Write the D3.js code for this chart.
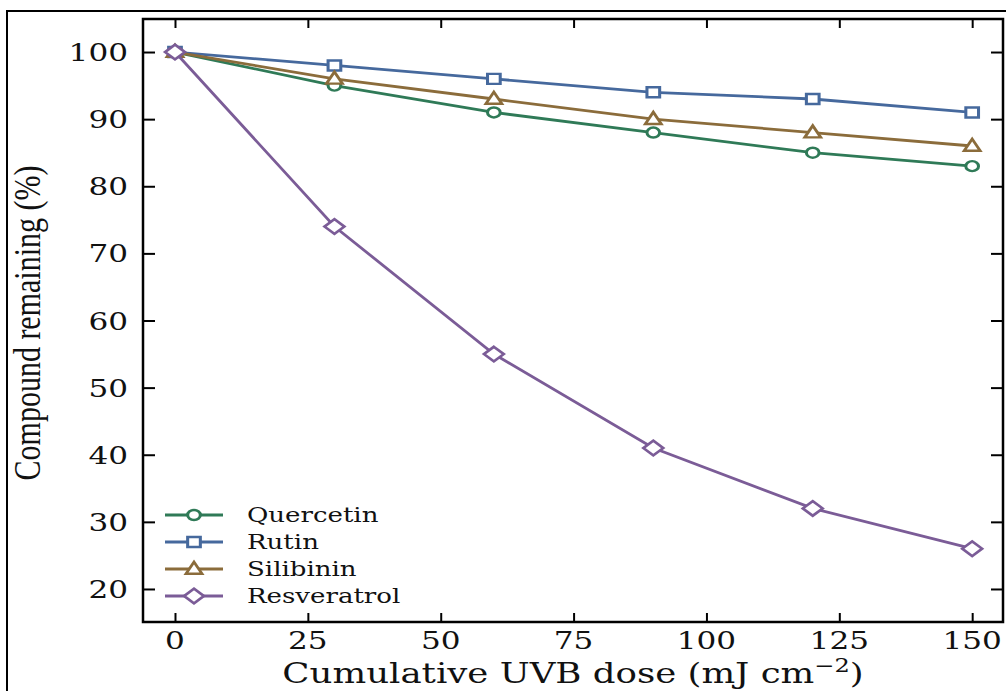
<!DOCTYPE html>
<html>
<head>
<meta charset="utf-8">
<script src="https://cdn.jsdelivr.net/npm/d3@7"></script>
<style>
  body { margin: 0; background: #fff; }
  svg { display: block; }
</style>
</head>
<body>
<div id="viz"></div>
<script>
// data
var doses = [0, 30, 60, 90, 120, 150];
var seriesNames = ["Quercetin", "Rutin", "Silibinin", "Resveratrol"];
var quercetin = [100, 95, 91, 88, 85, 83];
var rutin = [100, 98, 96, 94, 93, 91];
var silibinin = [100, 96, 93, 90, 88, 86];
var resveratrol = [100, 74, 55, 41, 32, 26];
var xTicks = [0, 25, 50, 75, 100, 125, 150];
var yTicks = [20, 30, 40, 50, 60, 70, 80, 90, 100];

var colors = ["#2f7a57", "#46699d", "#8b6c3b", "#7b5c97"];
var shapes = ["circle", "square", "triangle", "diamond"];
var allValues = [quercetin, rutin, silibinin, resveratrol];

var W = 1006, H = 691;
var plot = {left: 143, right: 1003, top: 19, bottom: 622};
var sx = 1.27; // the picture is stretched sideways, text and markers follow that
var tickFont = "'DejaVu Serif', serif";

var svg = d3.select("#viz").append("svg")
    .attr("width", W).attr("height", H);

// outer frame
svg.append("rect")
    .attr("x", 7).attr("y", 11)
    .attr("width", 1020).attr("height", 720)
    .attr("fill", "none").attr("stroke", "#000").attr("stroke-width", 2);

var x = d3.scaleLinear().domain([-6.02, 155.8]).range([plot.left, plot.right]);
var y = d3.scaleLinear().domain([15.08, 104.92]).range([plot.bottom, plot.top]);

// axes, ticks inward on all four sides
var xTickLen = 9, yTickLen = 12;
function cleanAxis(g) {
    g.select(".domain").remove();
    g.selectAll("line").attr("stroke-width", 2);
}
svg.append("g").attr("transform", "translate(0," + plot.bottom + ")")
    .call(d3.axisBottom(x).tickValues(xTicks).tickSize(-xTickLen).tickFormat(""))
    .call(cleanAxis);
svg.append("g").attr("transform", "translate(0," + plot.top + ")")
    .call(d3.axisTop(x).tickValues(xTicks).tickSize(-xTickLen).tickFormat(""))
    .call(cleanAxis);
svg.append("g").attr("transform", "translate(" + plot.left + ",0)")
    .call(d3.axisLeft(y).tickValues(yTicks).tickSize(-yTickLen).tickFormat(""))
    .call(cleanAxis);
svg.append("g").attr("transform", "translate(" + plot.right + ",0)")
    .call(d3.axisRight(y).tickValues(yTicks).tickSize(-yTickLen).tickFormat(""))
    .call(cleanAxis);

svg.append("rect")
    .attr("x", plot.left).attr("y", plot.top)
    .attr("width", plot.right - plot.left).attr("height", plot.bottom - plot.top)
    .attr("fill", "none").attr("stroke", "#000").attr("stroke-width", 2.5);

// tick labels
svg.selectAll(".xlab").data(xTicks).enter().append("text")
    .attr("class", "xlab")
    .attr("transform", function(d){ return "translate(" + x(d) + ",649) scale(" + sx + ",1)"; })
    .attr("text-anchor", "middle")
    .attr("font-family", tickFont).attr("font-size", 24.5)
    .attr("fill", "#111")
    .text(function(d){ return d; });

svg.selectAll(".ylab").data(yTicks).enter().append("text")
    .attr("class", "ylab")
    .attr("transform", function(d){ return "translate(128," + (y(d) + 9) + ") scale(" + sx + ",1)"; })
    .attr("text-anchor", "end")
    .attr("font-family", tickFont).attr("font-size", 24.5)
    .attr("fill", "#111")
    .text(function(d){ return d; });

// axis titles
var xTitle = svg.append("text")
    .attr("transform", "translate(" + ((plot.left + plot.right) / 2) + ",683) scale(" + sx + ",1)")
    .attr("text-anchor", "middle")
    .attr("font-family", tickFont).attr("font-size", 28)
    .attr("fill", "#111");
xTitle.append("tspan").text("Cumulative UVB dose (mJ cm");
xTitle.append("tspan").attr("font-size", 19).attr("dy", -11).text("\u22122");
xTitle.append("tspan").attr("dy", 11).text(")");

svg.append("text")
    .attr("transform", "translate(40,323) scale(" + sx + ",1) rotate(-90)")
    .attr("text-anchor", "middle")
    .attr("font-family", "'Liberation Serif', 'Times New Roman', serif").attr("font-size", 30)
    .attr("fill", "#111")
    .text("Compound remaining (%)");

// markers
function markerPath(shape) {
    if (shape == "circle") return d3.symbol().type(d3.symbolCircle).size(Math.PI * 5 * 5)();
    if (shape == "square") return "M-5,-5H5V5H-5Z";
    if (shape == "triangle") return "M0,-7L6.3,4.8L-6.3,4.8Z";
    return "M0,-7.3L7.8,0L0,7.3L-7.8,0Z";
}

var line = d3.line()
    .x(function(d, i){ return x(doses[i]); })
    .y(function(d){ return y(d); });

allValues.forEach(function(vals, k){
    var g = svg.append("g").attr("class", "series");
    g.append("path")
        .attr("d", line(vals))
        .attr("fill", "none")
        .attr("stroke", colors[k])
        .attr("stroke-width", 2.8);
    g.selectAll(".pt").data(vals).enter().append("path")
        .attr("class", "pt")
        .attr("d", markerPath(shapes[k]))
        .attr("transform", function(d, i){ return "translate(" + x(doses[i]) + "," + y(d) + ") scale(" + sx + ",1)"; })
        .attr("fill", "#fff")
        .attr("stroke", colors[k])
        .attr("stroke-width", 2.4);
});

// legend
var legendY = [515, 542, 569, 596];
seriesNames.forEach(function(name, k){
    var lg = svg.append("g").attr("transform", "translate(0," + legendY[k] + ")");
    lg.append("line")
        .attr("x1", 165).attr("x2", 223)
        .attr("stroke", colors[k]).attr("stroke-width", 2.8);
    lg.append("path")
        .attr("d", markerPath(shapes[k]))
        .attr("transform", "translate(194,0) scale(" + sx + ",1)")
        .attr("fill", "#fff").attr("stroke", colors[k]).attr("stroke-width", 2.4);
    lg.append("text")
        .attr("transform", "translate(247,7) scale(" + sx + ",1)")
        .attr("font-family", tickFont).attr("font-size", 20.5)
        .attr("fill", "#111")
        .text(name);
});
</script>
</body>
</html>
